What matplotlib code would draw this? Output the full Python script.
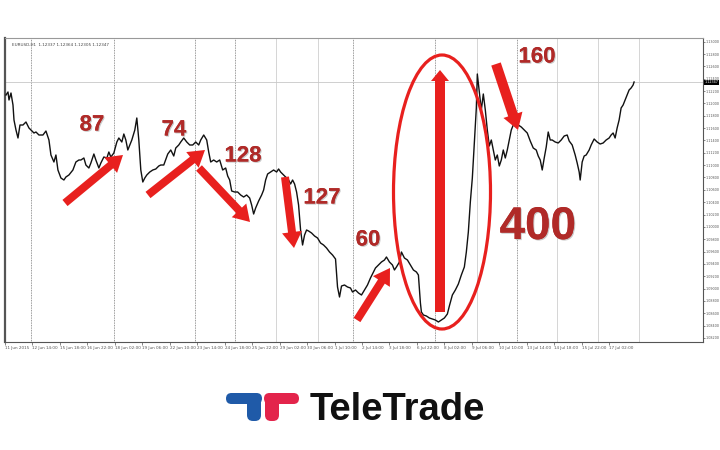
import numpy as np
import matplotlib
matplotlib.use("Agg")
import matplotlib.pyplot as plt
from matplotlib.patches import FancyArrow, Ellipse, FancyBboxPatch
import matplotlib.patheffects as pe
import matplotlib.transforms as mtransforms

# ---- data (bar position, price level in chart pixels above the bottom) ----
bar = [5, 7, 8, 10, 12, 13, 15, 17, 19, 22, 25, 28, 30, 33, 35, 38, 42, 45, 48, 50, 53, 55, 57, 60, 63, 65,
       68, 72, 75, 78, 80, 83, 85, 88, 90, 93, 95, 98, 100, 103, 106, 108, 110, 113, 116, 118, 121, 123, 125,
       127, 129, 131, 134, 136, 138, 140, 142, 144, 146, 149, 152, 155, 158, 160, 163, 167, 170, 173, 175, 178,
       180, 183, 186, 189, 192, 195, 198, 200, 203, 206, 208, 210, 213, 216, 219, 222, 225, 227, 229, 231, 234,
       237, 240, 243, 246, 249, 251, 253, 255, 258, 261, 263, 265, 267, 270, 273, 276, 278, 280, 283, 286, 288,
       290, 292, 294, 296, 298, 300, 302, 304, 306, 308, 311, 314, 317, 320, 323, 326, 329, 332, 335, 337, 339,
       341, 344, 347, 350, 352, 355, 358, 361, 364, 367, 370, 373, 375, 378, 381, 384, 386, 389, 392, 394, 396,
       399, 401, 404, 407, 410, 413, 416, 418, 420, 421, 423, 426, 429, 432, 435, 438, 441, 444, 447, 449, 452,
       455, 458, 461, 464, 466, 468, 470, 472, 474, 476, 477, 479, 481, 483, 485, 487, 489, 491, 493, 495, 497,
       499, 501, 503, 505, 507, 509, 511, 513, 515, 518, 521, 524, 527, 530, 533, 536, 538, 540, 542, 544, 546,
       548, 550, 552, 555, 558, 561, 564, 567, 569, 572, 575, 577, 579, 580, 582, 584, 586, 589, 591, 594, 597,
       600, 603, 606, 609, 611, 613, 615, 617, 619, 621, 623, 625, 627, 629, 631, 633, 634]
ypix = [95, 92, 100, 93, 105, 120, 130, 138, 125, 125, 122, 128, 130, 133, 132, 135, 135, 131, 140, 155, 162,
        155, 170, 178, 180, 177, 175, 170, 162, 160, 160, 158, 165, 168, 163, 154, 160, 168, 163, 157, 158, 152,
        157, 153, 142, 138, 142, 134, 140, 150, 145, 140, 130, 118, 140, 170, 182, 178, 175, 172, 170, 169, 166,
        165, 165, 154, 150, 156, 148, 145, 142, 138, 142, 145, 145, 142, 145, 140, 135, 140, 152, 162, 160, 162,
        160, 170, 168, 176, 180, 191, 192, 192, 195, 197, 195, 198, 205, 214, 208, 201, 195, 190, 180, 174, 172,
        170, 172, 169, 172, 175, 178, 180, 184, 180, 184, 192, 205, 230, 245, 235, 230, 231, 233, 236, 238, 243,
        245, 248, 252, 255, 259, 287, 297, 286, 285, 287, 288, 292, 290, 293, 295, 290, 285, 278, 272, 268, 265,
        262, 260, 257, 262, 265, 270, 267, 262, 252, 258, 260, 265, 270, 272, 275, 303, 312, 315, 316, 318, 319,
        320, 322, 320, 318, 314, 306, 295, 290, 284, 275, 267, 252, 232, 202, 178, 142, 108, 74, 92, 110, 94, 110,
        130, 146, 140, 150, 160, 155, 166, 160, 150, 158, 150, 140, 130, 125, 123, 125, 127, 130, 133, 141, 148,
        150, 156, 160, 170, 158, 147, 132, 140, 140, 142, 143, 140, 136, 135, 141, 145, 155, 163, 172, 180, 162,
        156, 155, 150, 145, 139, 142, 144, 143, 140, 138, 135, 133, 138, 128, 120, 108, 105, 100, 95, 90, 88, 85, 82]
level = [342 - v for v in ypix]

BASE = 1.08135      # price at the bottom edge of the chart
PX = 0.000162       # price per chart pixel
close = BASE + np.array(level) * PX

date_labels = ["11 Jun 2015", "12 Jun 14:00", "15 Jun 18:00", "16 Jun 22:00", "18 Jun 02:00", "19 Jun 06:00",
               "22 Jun 10:00", "23 Jun 14:00", "24 Jun 18:00", "25 Jun 22:00", "29 Jun 02:00", "30 Jun 06:00",
               "1 Jul 10:00", "2 Jul 14:00", "3 Jul 18:00", "6 Jul 22:00", "8 Jul 02:00", "9 Jul 06:00",
               "10 Jul 10:00", "13 Jul 14:00", "14 Jul 18:00", "15 Jul 22:00", "17 Jul 02:00"]
moves = ["87", "74", "128", "127", "60", "400", "160"]

RED = "#e8201e"
DARKRED = "#b02a28"

fig = plt.figure(figsize=(7.2, 4.5), dpi=100)
fig.patch.set_facecolor("white")

ax = fig.add_axes([5 / 720, 108 / 450, 698 / 720, 304 / 450])
ax.set_xlim(5, 703)
ax.set_ylim(BASE, BASE + 304 * PX)

# grid
for gx in [30, 113, 194, 234, 352, 435, 517]:
    ax.axvline(gx, color="#777777", lw=0.6, ls=(0, (1, 1)), zorder=1)
for gx in [275, 317, 477, 557, 598, 639]:
    ax.axvline(gx, color="#cfcfcf", lw=0.6, zorder=1)
ax.axhline(close[-1], color="#c8c8c8", lw=0.6, zorder=1)

ax.plot(bar, close, color="#111111", lw=1.0, zorder=3)

for s in ["left", "bottom", "right", "top"]:
    ax.spines[s].set_color("#555555")
    ax.spines[s].set_linewidth(0.8)
ax.spines["left"].set_linewidth(1.6)
ax.spines["top"].set_color("#999999")

ax.yaxis.tick_right()
yt = np.arange(1.0820, 1.1301, 0.0020)
ax.set_yticks(yt)
ax.set_yticklabels([f"{v:.5f}" for v in yt], fontsize=2.4, color="#555555")
ax.tick_params(axis="y", length=1.5, width=0.5, pad=0.5, colors="#555555")
date_pos = [4 + 27.5 * k for k in range(len(date_labels))]
ax.set_xticks(date_pos)
ax.set_xticklabels(date_labels, fontsize=3, color="#555555", ha="left")
ax.tick_params(axis="x", length=2, width=0.5, pad=1, colors="#555555")

tr = mtransforms.blended_transform_factory(ax.transAxes, ax.transData)
ax.text(1.002, close[-1], f"{close[-1]:.5f}", transform=tr, fontsize=2.4, color="white",
        va="center", ha="left", bbox=dict(boxstyle="square,pad=0.15", fc="black", ec="none"), zorder=5)
ax.text(0.01, 0.985, "EURUSD,H1  1.12337 1.12364 1.12305 1.12347", transform=ax.transAxes,
        fontsize=3, color="#444444", va="top", ha="left")

# ---- overlay for annotations and logo (pixel coordinates) ----
ov = fig.add_axes([0, 0, 1, 1], zorder=10)
ov.set_xlim(0, 720)
ov.set_ylim(450, 0)
ov.axis("off")

def arrow(x0, y0, x1, y1, w=8, hw=20, hl=16):
    ov.add_patch(FancyArrow(x0, y0, x1 - x0, y1 - y0, width=w, head_width=hw, head_length=hl,
                            length_includes_head=True, color=RED, lw=0))

arrow(65, 203, 123, 155)
arrow(148, 195, 205, 150)
arrow(199, 168, 250, 222)
arrow(285, 177, 294, 248)
arrow(357, 320, 390, 268)
arrow(440, 312, 440, 70, w=10, hw=18, hl=11)
arrow(496, 64, 518, 130, w=10, hw=20, hl=16)

ov.add_patch(Ellipse((442, 192), 97, 274, fill=False, ec=RED, lw=2.3))

shadow = [pe.withSimplePatchShadow(offset=(0.8, -0.8), shadow_rgbFace="#bbbbbb", alpha=0.8), pe.Normal()]
txt_pos = [(92, 125, 16), (174, 130, 16), (243, 156, 16), (322, 198, 16), (368, 240, 16), (538, 227, 33),
           (537, 57, 16)]
for label, (tx, ty, fs) in zip(moves, txt_pos):
    ov.text(tx, ty, label, fontsize=fs, fontweight="bold", color=DARKRED, ha="center", va="center",
            family="Liberation Sans", path_effects=shadow)

# logo
BLUE = "#1f5aa8"
PINK = "#e3244b"
ov.add_patch(FancyBboxPatch((226, 393), 36, 11, boxstyle="round,pad=0,rounding_size=5.5", fc=BLUE, ec="none"))
ov.add_patch(FancyBboxPatch((247, 396), 14, 25, boxstyle="round,pad=0,rounding_size=6", fc=BLUE, ec="none"))
ov.add_patch(FancyBboxPatch((264, 393), 35, 11, boxstyle="round,pad=0,rounding_size=5.5", fc=PINK, ec="none"))
ov.add_patch(FancyBboxPatch((265, 396), 14, 25, boxstyle="round,pad=0,rounding_size=6", fc=PINK, ec="none"))
ov.text(310, 420, "TeleTrade", fontsize=27.5, fontweight="bold", color="#111111", ha="left", va="baseline",
        family="Liberation Sans")

fig.savefig("out.png", dpi=100, facecolor="white")
